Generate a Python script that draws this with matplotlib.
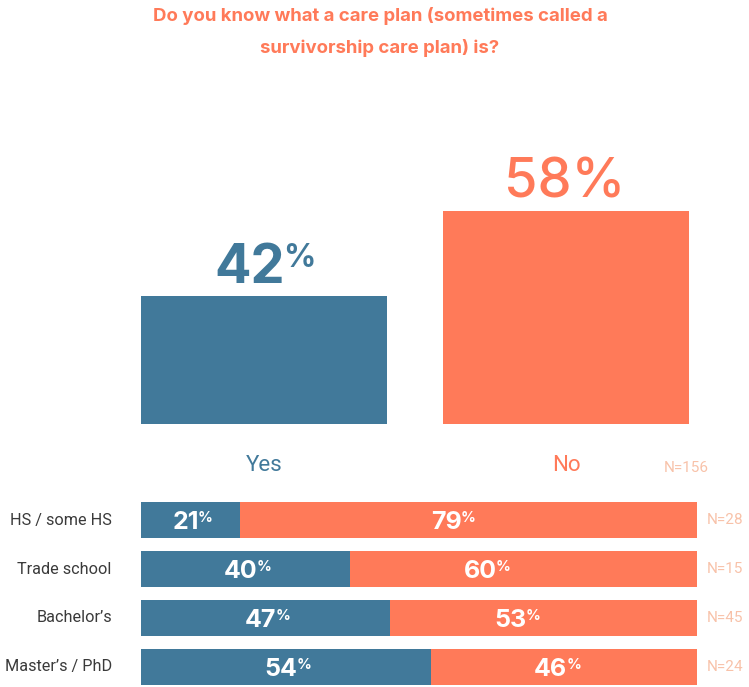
import matplotlib
matplotlib.use("Agg")
import matplotlib.pyplot as plt

# ---------------------------------------------------------------
# Data
# ---------------------------------------------------------------
answers = ["Yes", "No"]
overall_pct = [42, 58]
overall_n = 156

groups = ["HS / some HS", "Trade school", "Bachelor\u2019s", "Master\u2019s / PhD"]
yes_pct = [21, 40, 47, 54]
no_pct = [79, 60, 53, 46]
group_n = [28, 15, 45, 24]

TITLE = "Do you know what a care plan (sometimes called a\nsurvivorship care plan) is?"

# ---------------------------------------------------------------
# Style
# ---------------------------------------------------------------
BLUE = "#41799a"
ORANGE = "#ff7a59"
PEACH = "#f8c2a9"
DARK = "#3a3a3a"
BOLD_FONT = ["Inter", "DejaVu Sans"]
LIGHT_FONT = ["Roboto", "DejaVu Sans"]

# horizontal nudge (points) of the "No" labels, as placed in the original
no_label_nudge = [-12.5, -27.5, -20.5, -6]

# the original's bars start a little above 0 at the left edge
X0 = 3.9
Y0 = 17.9

W, H = 749, 687
fig = plt.figure(figsize=(W / 100, H / 100), dpi=100)


def box(left, top, right, bottom):
    """pixel box -> figure fraction rect"""
    return [left / W, 1 - bottom / H, (right - left) / W, (bottom - top) / H]


fig.text(380 / W, 1 - 32 / H, TITLE, ha="center", va="center", fontsize=13.4,
         fontweight="bold", color=ORANGE, family=BOLD_FONT, linespacing=1.95)

# ---------------------------------------------------------------
# Overall Yes / No bars
# ---------------------------------------------------------------
ax1 = fig.add_axes(box(141, 211, 689, 424))
ax1.bar(range(len(answers)), overall_pct, width=0.815, color=[BLUE, ORANGE])
ax1.set_xlim(-0.4075, 1.4075)
ax1.set_ylim(Y0, 58)
ax1.axis("off")

# Yes label: bold number with small superscript %
t = ax1.annotate(str(overall_pct[0]), xy=(0, overall_pct[0]), xytext=(-10.5, 9.5),
                 textcoords="offset points", ha="center", va="baseline",
                 fontsize=39, fontweight="bold", color=BLUE, family=BOLD_FONT,
                 annotation_clip=False)
ax1.annotate("%", xy=(1, 1), xycoords=t, xytext=(-1.5, 0), textcoords="offset points",
             ha="left", va="top", fontsize=23, fontweight="bold", color=BLUE,
             family=BOLD_FONT)
# No label: full size
ax1.annotate(f"{overall_pct[1]}%", xy=(1, overall_pct[1]), xytext=(-1, 10),
             textcoords="offset points", ha="center", va="baseline",
             fontsize=39, fontweight="medium", color=ORANGE, family=BOLD_FONT,
             annotation_clip=False)

for i, (name, col) in enumerate(zip(answers, [BLUE, ORANGE])):
    ax1.annotate(name, xy=(i, Y0), xytext=(0, -30), textcoords="offset points",
                 ha="center", va="center", fontsize=16, color=col,
                 family=LIGHT_FONT, annotation_clip=False)

fig.text(664 / W, 1 - 468 / H, f"N={overall_n}", ha="left", va="center",
         fontsize=11, color=PEACH, family=LIGHT_FONT)

# ---------------------------------------------------------------
# By education
# ---------------------------------------------------------------
ax2 = fig.add_axes(box(141, 495, 697, 687))
rows = range(len(groups))
ax2.barh(rows, yes_pct, height=0.73, color=BLUE)
ax2.barh(rows, no_pct, left=yes_pct, height=0.73, color=ORANGE)
ax2.set_xlim(X0, 100)
ax2.set_ylim(3 + 20 / 49, -0.5 - 0.5 / 49)
ax2.axis("off")


def seg_label(x, y, value, dx=0):
    num = ax2.annotate(str(value), xy=(x, y), xytext=(dx - 3.5, -6.5),
                       textcoords="offset points", ha="center", va="baseline",
                       fontsize=18, fontweight="bold", color="white",
                       family=BOLD_FONT)
    ax2.annotate("%", xy=(1, 1), xycoords=num, xytext=(-0.8, 0),
                 textcoords="offset points", ha="left", va="top", fontsize=10.5,
                 fontweight="bold", color="white", family=BOLD_FONT)


for i in rows:
    seg_label((X0 + yes_pct[i]) / 2, i, yes_pct[i])
    seg_label(yes_pct[i] + no_pct[i] / 2, i, no_pct[i], no_label_nudge[i])
    ax2.annotate(groups[i], xy=(X0, i), xytext=(-21, 0), textcoords="offset points",
                 ha="right", va="center", fontsize=11.7, color=DARK,
                 family=LIGHT_FONT, annotation_clip=False)
    ax2.annotate(f"N={group_n[i]}", xy=(100, i), xytext=(7, 0),
                 textcoords="offset points", ha="left", va="center", fontsize=11,
                 color=PEACH, family=LIGHT_FONT, annotation_clip=False)

fig.savefig("out.png", dpi=100)
